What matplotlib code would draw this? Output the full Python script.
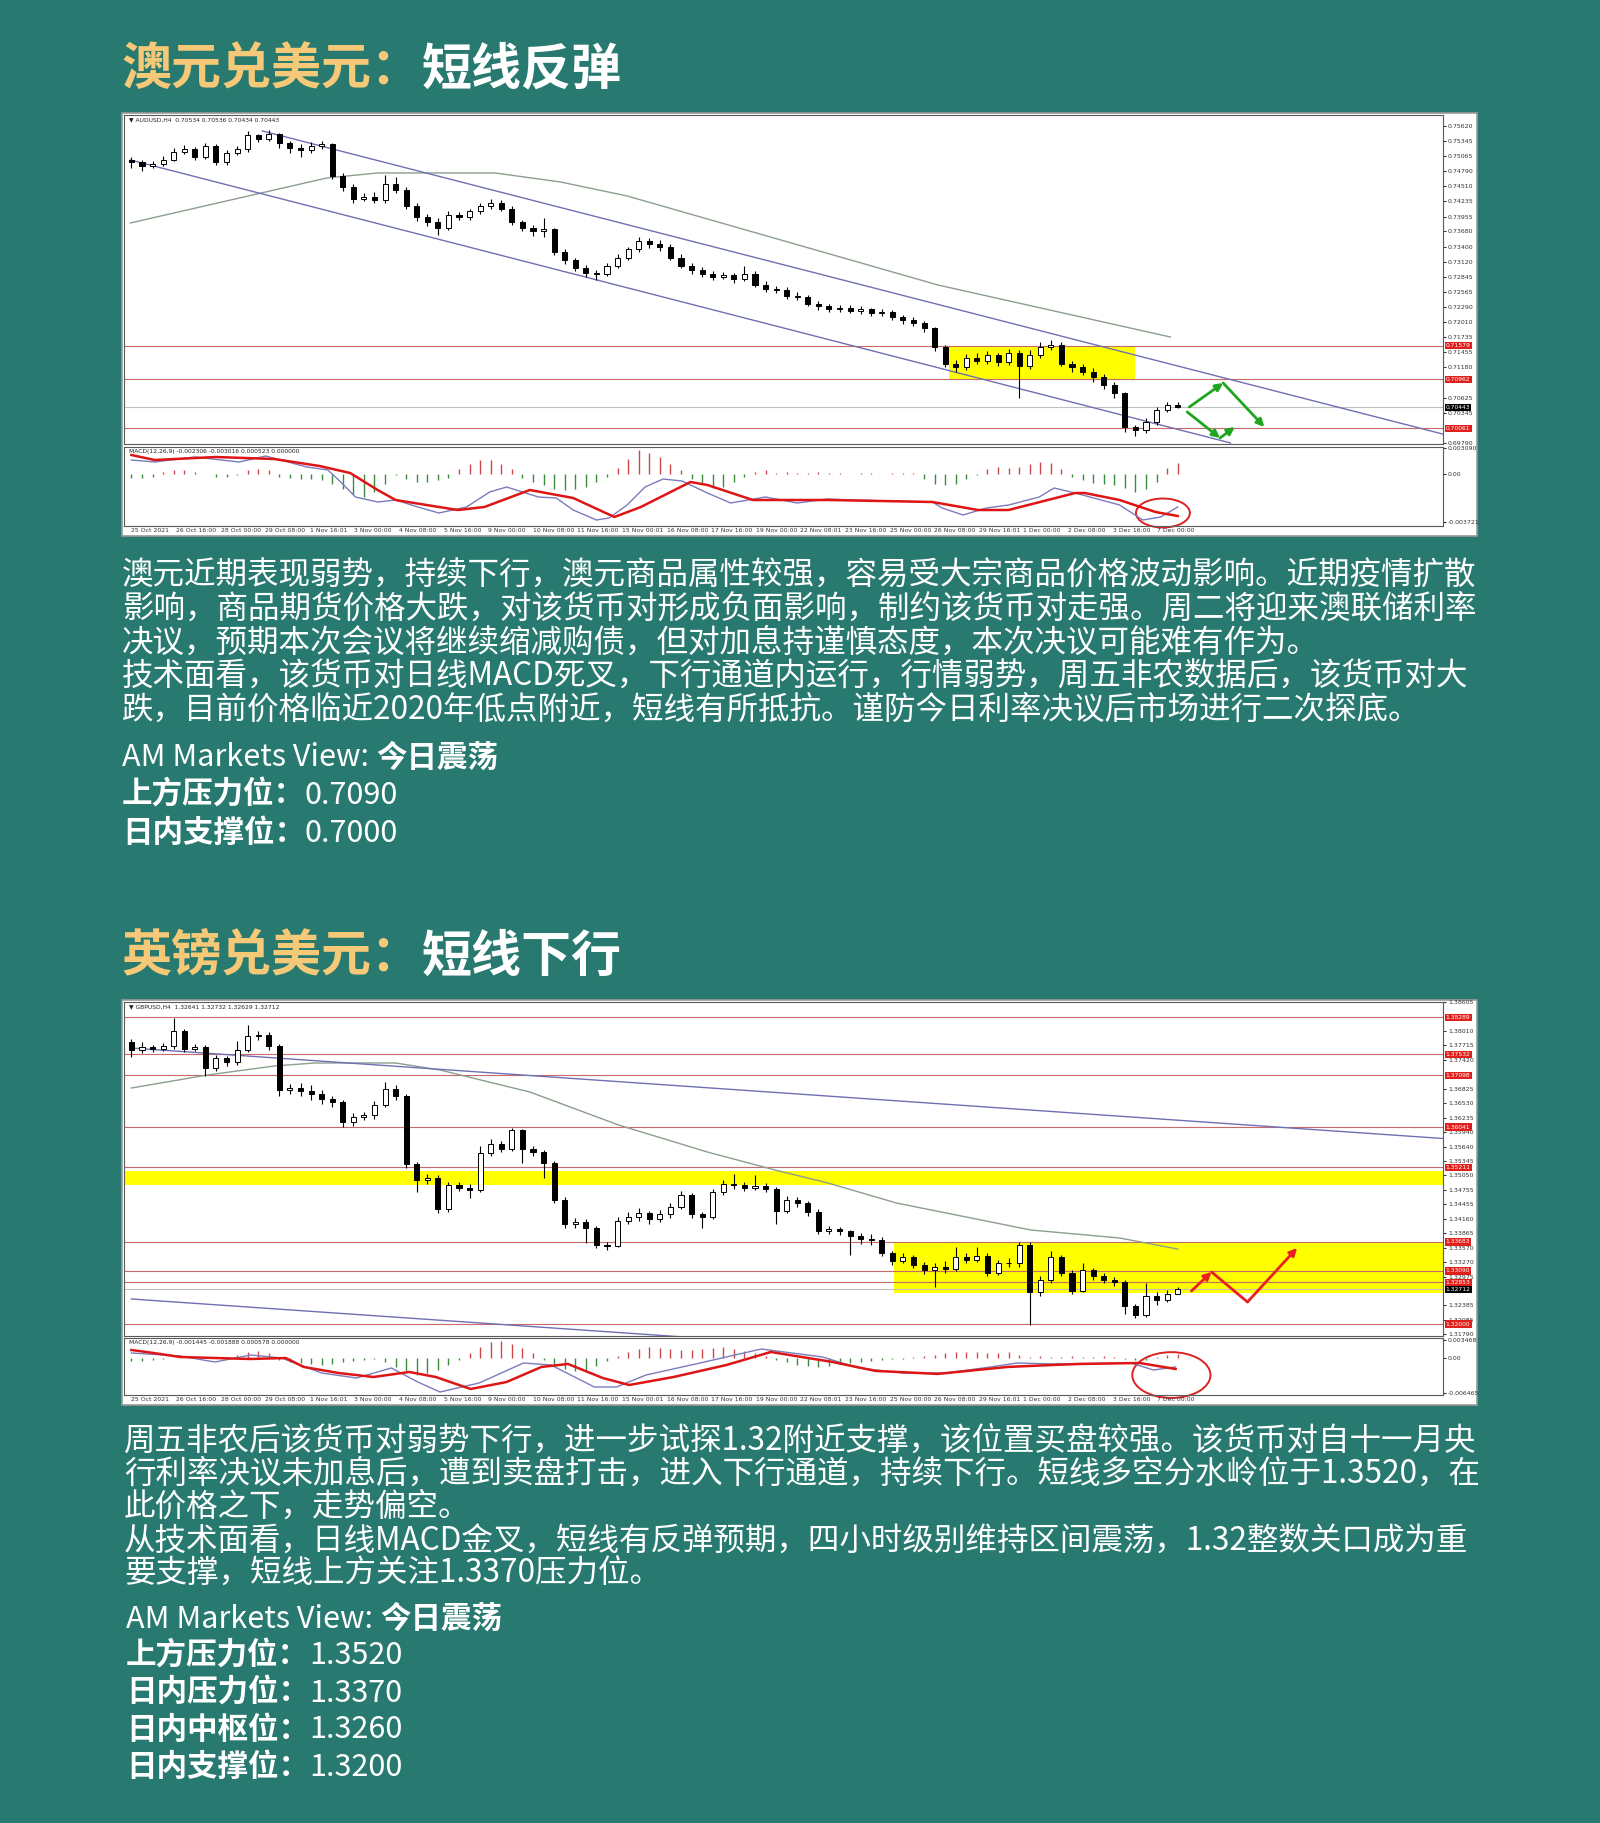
import numpy as np
import matplotlib
matplotlib.use('Agg')
import matplotlib.pyplot as plt
from matplotlib.patches import Rectangle, Ellipse

plt.rcParams['font.family'] = ['Noto Sans CJK SC', 'DejaVu Sans']

W, H = 1600, 1823
BG = '#287a70'
GOLD = '#f6c978'
LINE_RED = '#c86a6a'
TAG_RED = '#e0201c'
CHANNEL = '#6f6fb4'
MA_COL = '#8c9e8c'

# ---------------- AUDUSD H4 ----------------
aud_first_open = 0.7500
aud_close = [0.7495, 0.7488, 0.7492, 0.7500, 0.7515, 0.7520, 0.7505, 0.7525, 0.7495, 0.7512,
             0.7520, 0.7545, 0.7538, 0.7548, 0.7530, 0.7522, 0.7518, 0.7525, 0.7528, 0.7470,
             0.7450, 0.7428, 0.7432, 0.7425, 0.7455, 0.7445, 0.7415, 0.7395, 0.7385, 0.7375,
             0.7398, 0.7395, 0.7405, 0.7415, 0.7420, 0.7410, 0.7385, 0.7375, 0.7368, 0.7372,
             0.7330, 0.7315, 0.7300, 0.7292, 0.7290, 0.7305, 0.7320, 0.7335, 0.7350, 0.7345,
             0.7340, 0.7320, 0.7305, 0.7298, 0.7290, 0.7285, 0.7288, 0.7280, 0.7290, 0.7270,
             0.7262, 0.7260, 0.7250, 0.7248, 0.7235, 0.7230, 0.7225, 0.7228, 0.7222, 0.7225,
             0.7218, 0.7220, 0.7210, 0.7205, 0.7200, 0.7190, 0.7155, 0.7125, 0.7118, 0.7135,
             0.7130, 0.7140, 0.7128, 0.7145, 0.7120, 0.7140, 0.7155, 0.7160, 0.7125, 0.7118,
             0.7110, 0.7100, 0.7085, 0.7070, 0.7008, 0.7002, 0.7018, 0.7040, 0.7048, 0.70443]
aud_high = [0.7505, 0.7500, 0.7497, 0.7506, 0.7522, 0.7527, 0.7524, 0.7530, 0.7528, 0.7518,
            0.7526, 0.7552, 0.7548, 0.7555, 0.7550, 0.7535, 0.7528, 0.7532, 0.7535, 0.7530,
            0.7475, 0.7455, 0.7438, 0.7440, 0.7472, 0.7468, 0.7450, 0.7420, 0.7400, 0.7392,
            0.7405, 0.7404, 0.7410, 0.7420, 0.7427, 0.7425, 0.7415, 0.7390, 0.7380, 0.7392,
            0.7375, 0.7335, 0.7320, 0.7306, 0.7298, 0.7310, 0.7326, 0.7340, 0.7358, 0.7356,
            0.7352, 0.7345, 0.7326, 0.7310, 0.7302, 0.7296, 0.7294, 0.7292, 0.7305, 0.7295,
            0.7276, 0.7268, 0.7265, 0.7256, 0.7252, 0.7240, 0.7234, 0.7232, 0.7232, 0.7230,
            0.7228, 0.7226, 0.7224, 0.7215, 0.7210, 0.7204, 0.7193, 0.7160, 0.7132, 0.7142,
            0.7145, 0.7148, 0.7145, 0.7152, 0.7150, 0.7150, 0.7165, 0.7168, 0.7165, 0.7130,
            0.7125, 0.7116, 0.7105, 0.7092, 0.7073, 0.7012, 0.7024, 0.7046, 0.7054, 0.7054]
aud_low = [0.7485, 0.7480, 0.7484, 0.7488, 0.7497, 0.7510, 0.7500, 0.7502, 0.7490, 0.7490,
           0.7508, 0.7515, 0.7532, 0.7535, 0.7522, 0.7512, 0.7505, 0.7512, 0.7520, 0.7465,
           0.7442, 0.7420, 0.7424, 0.7420, 0.7420, 0.7438, 0.7410, 0.7388, 0.7378, 0.7362,
           0.7370, 0.7390, 0.7390, 0.7400, 0.7410, 0.7405, 0.7380, 0.7368, 0.7360, 0.7358,
           0.7325, 0.7308, 0.7295, 0.7285, 0.7278, 0.7286, 0.7300, 0.7316, 0.7330, 0.7338,
           0.7332, 0.7315, 0.7300, 0.7290, 0.7284, 0.7278, 0.7280, 0.7274, 0.7276, 0.7265,
           0.7256, 0.7254, 0.7244, 0.7242, 0.7230, 0.7224, 0.7220, 0.7220, 0.7218, 0.7217,
           0.7212, 0.7212, 0.7205, 0.7198, 0.7194, 0.7184, 0.7148, 0.7118, 0.7110, 0.7114,
           0.7125, 0.7124, 0.7120, 0.7122, 0.7062, 0.7115, 0.7135, 0.7150, 0.7120, 0.7110,
           0.7104, 0.7092, 0.7078, 0.7062, 0.7000, 0.6992, 0.6998, 0.7012, 0.7036, 0.7043]
aud_ma_x = [-0.1, 18.5, 23.3, 34.4, 40.6, 46.9, 76.3, 98.3]
aud_ma_y = [0.73836, 0.74664, 0.74756, 0.74756, 0.74590, 0.74333, 0.72696, 0.71739]
aud_chan_up = ([12.4, 124.8], [0.75528, 0.69918])
aud_chan_dn = ([-0.1, 104.0], [0.74995, 0.69790])
aud_red_lines = [0.71579, 0.70962, 0.70061]
aud_last = 0.70443
aud_box = (77.4, 95.0, 0.70949, 0.71574)
aud_arrow_a = [(100.1, 0.70452), (103.3, 0.70893), (107.2, 0.70084)]
aud_arrow_b = [(99.9, 0.70360), (103.0, 0.69882), (104.4, 0.70084)]
aud_ticks = [0.75620, 0.75345, 0.75065, 0.74790, 0.74510, 0.74235, 0.73955, 0.73680, 0.73400,
             0.73120, 0.72845, 0.72565, 0.72290, 0.72010, 0.71735, 0.71455, 0.71180, 0.70625,
             0.70345, 0.69790]
# MACD in units of 1e-4
aud_hist = [-3, -3, -2, 2, 3, 3, 2, 0, -2, -2,
            -1, 3, 4, 3, -2, -3, -4, -4, -5, -8,
            -12, -16, -18, -14, -8, -1, -4, -6, -6, -5,
            -3, 4, 8, 11, 11, 8, 4, -3, -6, -9,
            -12, -13, -12, -10, -6, -2, 5, 12, 19, 17,
            14, 8, 3, -4, -8, -11, -10, -6, -2, 2,
            3, 1, 2, 1, 1, 2, 1, 1, 0, 1,
            1, 0, 1, 1, 1, -4, -8, -9, -8, -4,
            -1, 4, 6, 5, 6, 8, 10, 9, 4, -2,
            -5, -7, -8, -9, -11, -14, -12, -6, 5, 9]
aud_sig_x = [0, 2.2, 8, 13.5, 17.8, 20.7, 23.3, 25, 29.1, 30.9, 33.4, 37.7, 41.8, 45.7, 48.2,
             52.9, 54.5, 58.8, 65.9, 75.8, 80.1, 83, 89.3, 90.2, 93.5, 96.9, 99]
aud_sig_y = [15.2, 11.2, 13.6, 12, 6.4, 0.8, -12.8, -20.8, -26.4, -28.8, -26.4, -12.8, -19.2,
             -34.4, -26.4, -6.4, -8.8, -20.8, -20.8, -22.4, -28.8, -28.8, -15.2, -15.2, -20.8,
             -30.4, -33.6]
aud_macd_x = [0, 2.2, 6, 10.2, 12.7, 16.6, 18.6, 19.9, 21.2, 23.3, 25, 27.1, 29.1, 31.7, 33.9,
              35.5, 38.5, 40.2, 41.8, 44, 45.2, 46.9, 48.6, 50.3, 52.1, 54.5, 56.7, 60, 63, 65.9,
              68.2, 75.8, 76.7, 78.7, 80.9, 83, 85.9, 87.3, 89.3, 93.5, 95.7, 97.4, 99]
aud_macd_y = [11.2, 9.6, 13.6, 9.6, 14.4, 5.6, 3.2, -7.2, -18.4, -22.4, -20.8, -26.4, -31.2,
              -26.4, -14.4, -10.4, -18.4, -19.2, -28.8, -36.8, -35.2, -24.8, -10.4, -4, -5.6,
              -15.2, -23.2, -18.4, -23.2, -20, -20.8, -22.4, -27.2, -32.8, -27.2, -24.8, -18.4,
              -11.2, -15.2, -24.8, -36.8, -34.4, -26.4]

# ---------------- GBPUSD H4 ----------------
gbp_first_open = 1.3778
gbp_close = [1.3762, 1.3768, 1.3764, 1.3770, 1.3800, 1.3765, 1.3768, 1.3725, 1.3745, 1.3738,
             1.3762, 1.3790, 1.3792, 1.3770, 1.3680, 1.3685, 1.3678, 1.3672, 1.3662, 1.3655,
             1.3615, 1.3625, 1.3628, 1.3650, 1.3682, 1.3668, 1.3528, 1.3495, 1.3500, 1.3435,
             1.3485, 1.3480, 1.3475, 1.3550, 1.3570, 1.3560, 1.3598, 1.3558, 1.3552, 1.3530,
             1.3455, 1.3405, 1.3410, 1.3398, 1.3362, 1.3360, 1.3412, 1.3420, 1.3428, 1.3415,
             1.3425, 1.3440, 1.3465, 1.3425, 1.3420, 1.3470, 1.3488, 1.3485, 1.3480, 1.3484,
             1.3478, 1.3432, 1.3455, 1.3448, 1.3430, 1.3390, 1.3395, 1.3390, 1.3380, 1.3375,
             1.3372, 1.3345, 1.3330, 1.3338, 1.3322, 1.3310, 1.3318, 1.3312, 1.3338, 1.3332,
             1.3340, 1.3305, 1.3325, 1.3325, 1.3362, 1.3265, 1.3290, 1.3338, 1.3305, 1.3268,
             1.3310, 1.3298, 1.3290, 1.3286, 1.3238, 1.3218, 1.3258, 1.3250, 1.3262, 1.32712]
gbp_high = [1.3785, 1.3778, 1.3772, 1.3776, 1.3828, 1.3805, 1.3775, 1.3772, 1.3752, 1.3750,
            1.3780, 1.3813, 1.3800, 1.3798, 1.3774, 1.3692, 1.3695, 1.3690, 1.3680, 1.3668,
            1.3660, 1.3632, 1.3635, 1.3658, 1.3696, 1.3690, 1.3672, 1.3532, 1.3508, 1.3505,
            1.3492, 1.3492, 1.3488, 1.3565, 1.3580, 1.3576, 1.3602, 1.3600, 1.3565, 1.3556,
            1.3534, 1.3460, 1.3418, 1.3415, 1.3402, 1.3368, 1.3420, 1.3430, 1.3438, 1.3432,
            1.3433, 1.3448, 1.3472, 1.3468, 1.3430, 1.3478, 1.3495, 1.3508, 1.3492, 1.3505,
            1.3490, 1.3482, 1.3462, 1.3460, 1.3452, 1.3435, 1.3402, 1.3400, 1.3392, 1.3386,
            1.3385, 1.3378, 1.3350, 1.3345, 1.3342, 1.3328, 1.3325, 1.3330, 1.3358, 1.3345,
            1.3358, 1.3345, 1.3332, 1.3335, 1.3368, 1.3368, 1.3298, 1.3350, 1.3342, 1.3310,
            1.3325, 1.3315, 1.3305, 1.3296, 1.3290, 1.3242, 1.3284, 1.3265, 1.3270, 1.3275]
gbp_low = [1.3748, 1.3755, 1.3758, 1.3760, 1.3765, 1.3758, 1.3760, 1.3709, 1.3718, 1.3730,
           1.3732, 1.3758, 1.3783, 1.3762, 1.3668, 1.3672, 1.3668, 1.3660, 1.3652, 1.3645,
           1.3604, 1.3606, 1.3618, 1.3620, 1.3645, 1.3660, 1.3520, 1.3471, 1.3488, 1.3428,
           1.3430, 1.3472, 1.3458, 1.3470, 1.3545, 1.3552, 1.3555, 1.3530, 1.3545, 1.3500,
           1.3448, 1.3398, 1.3398, 1.3366, 1.3355, 1.3352, 1.3358, 1.3405, 1.3412, 1.3405,
           1.3410, 1.3418, 1.3435, 1.3418, 1.3397, 1.3415, 1.3465, 1.3478, 1.3472, 1.3475,
           1.3470, 1.3405, 1.3428, 1.3440, 1.3422, 1.3385, 1.3385, 1.3382, 1.3342, 1.3365,
           1.3362, 1.3340, 1.3322, 1.3325, 1.3315, 1.3302, 1.3276, 1.3305, 1.3308, 1.3325,
           1.3328, 1.3298, 1.3300, 1.3318, 1.3318, 1.3198, 1.3258, 1.3285, 1.3298, 1.3262,
           1.3265, 1.3290, 1.3284, 1.3278, 1.3220, 1.3212, 1.3215, 1.3240, 1.3245, 1.3263]
gbp_ma_x = [0, 7.2, 13.5, 17.3, 25, 29.2, 37.7, 46.1, 54.5, 60.9, 65.9, 72.4, 85.1, 93.5, 99]
gbp_ma_y = [1.36841, 1.37108, 1.37292, 1.37354, 1.37354, 1.37210, 1.36759, 1.36082, 1.35528,
            1.35159, 1.34893, 1.34482, 1.33929, 1.33765, 1.33539]
gbp_chan_up = ([0, 124.8], [1.37661, 1.35795])
gbp_chan_dn = ([0, 54.5], [1.32514, 1.31701])
gbp_red_lines = [1.38289, 1.37532, 1.37098, 1.36041, 1.35211, 1.33683, 1.33090, 1.32853, 1.32000]
gbp_last = 1.32712
gbp_band = (1.34852, 1.35139)
gbp_box = (72.2, 130.0, 1.32637, 1.33683)
gbp_arrow = [(100.3, 1.32678), (102.2, 1.33068), (105.6, 1.32453), (110.3, 1.33561)]
gbp_ticks = [1.38605, 1.38010, 1.37715, 1.37420, 1.36825, 1.36530, 1.36235, 1.35940, 1.35640,
             1.35345, 1.35050, 1.34755, 1.34455, 1.34160, 1.33865, 1.33570, 1.33270, 1.32975,
             1.32385, 1.32085, 1.31790]
gbp_hist = [-6, -6, -5, -3, -1, 0, 1, 1, 0, 2,
            6, 10, 13, 8, -4, -8, -10, -12, -14, -12,
            -9, -6, -4, -2, -8, -18, -26, -32, -30, -24,
            -14, -4, 8, 20, 30, 32, 26, 18, 8, -4,
            -14, -22, -26, -24, -16, -6, 4, 10, 16, 20,
            19, 17, 15, 14, 16, 18, 20, 17, 13, 8,
            3, -4, -9, -13, -16, -17, -15, -12, -10, -8,
            -6, -4, -3, -2, 2, 4, 6, 9, 11, 11,
            10, 8, 9, 10, 6, 2, 3, 2, 2, 3,
            2, 2, 3, 2, -2, -5, -4, 1, 5, 7]
gbp_sig_x = [0, 2.1, 4.6, 7.9, 11.3, 14.6, 16.3, 19.6, 22.9, 26.3, 28.8, 32.1, 35.5, 38.8, 41.3,
             44.6, 47.1, 51.3, 56.3, 60.5, 66.3, 70.4, 76.3, 82.9, 87.1, 89.6, 95.4, 98.8]
gbp_sig_y = [14.6, 8.9, 1.3, -0.6, -2.5, -0.6, -17.6, -29.1, -36.7, -27.2, -36.7, -59.5, -46.2,
             -17.6, -11.9, -38.6, -51.9, -36.7, -13.9, 10.8, -8.0, -25.1, -30.8, -17.6, -13.9,
             -12.0, -10.1, -21.5]
gbp_macd_x = [0, 4.6, 7.9, 11.3, 14.2, 18, 21.3, 24.6, 27.1, 29.2, 32.9, 37.1, 39.7, 43.8, 45.9,
              48.7, 53.8, 59.6, 65.4, 68.8, 73, 77.1, 81.3, 83.8, 87.1, 94.6, 96.7, 98.8]
gbp_macd_y = [8.9, 3.2, -8.2, 5.1, -0.6, -29.1, -38.6, -19.6, -46.2, -65.2, -48.1, -10.1, -13.9,
              -55.7, -55.7, -32.9, -10.1, 16.5, 1.3, -19.6, -29.1, -29.1, -17.6, -10.1, -11.9,
              -10.1, -23.4, -17.6]

dates = ['25 Oct 2021', '26 Oct 16:00', '28 Oct 00:00', '29 Oct 08:00', '1 Nov 16:01',
         '3 Nov 00:00', '4 Nov 08:00', '5 Nov 16:00', '9 Nov 00:00', '10 Nov 08:00',
         '11 Nov 16:00', '15 Nov 00:01', '16 Nov 08:00', '17 Nov 16:00', '19 Nov 00:00',
         '22 Nov 08:01', '23 Nov 16:00', '25 Nov 00:00', '26 Nov 08:00', '29 Nov 16:01',
         '1 Dec 00:00', '2 Dec 08:00', '3 Dec 16:00', '7 Dec 00:00']

aud_text = ['澳元近期表现弱势，持续下行，澳元商品属性较强，容易受大宗商品价格波动影响。近期疫情扩散',
            '影响，商品期货价格大跌，对该货币对形成负面影响，制约该货币对走强。周二将迎来澳联储利率',
            '决议，预期本次会议将继续缩减购债，但对加息持谨慎态度，本次决议可能难有作为。',
            '技术面看，该货币对日线MACD死叉，下行通道内运行，行情弱势，周五非农数据后，该货币对大',
            '跌，目前价格临近2020年低点附近，短线有所抵抗。谨防今日利率决议后市场进行二次探底。']
aud_levels = [('上方压力位：', '0.7090'), ('日内支撑位：', '0.7000')]
gbp_text = ['周五非农后该货币对弱势下行，进一步试探1.32附近支撑，该位置买盘较强。该货币对自十一月央',
            '行利率决议未加息后，遭到卖盘打击，进入下行通道，持续下行。短线多空分水岭位于1.3520，在',
            '此价格之下，走势偏空。',
            '从技术面看，日线MACD金叉，短线有反弹预期，四小时级别维持区间震荡，1.32整数关口成为重',
            '要支撑，短线上方关注1.3370压力位。']
gbp_levels = [('上方压力位：', '1.3520'), ('日内压力位：', '1.3370'),
              ('日内中枢位：', '1.3260'), ('日内支撑位：', '1.3200')]

XL = (-0.7, 124.1)

fig = plt.figure(figsize=(W / 100, H / 100), dpi=100, facecolor=BG)
bg = fig.add_axes([0, 0, 1, 1])
bg.set_xlim(0, W)
bg.set_ylim(H, 0)
bg.axis('off')


def frac(x0, y0, x1, y1):
    return [x0 / W, 1 - y1 / H, (x1 - x0) / W, (y1 - y0) / H]


def style(ax):
    ax.set_facecolor('white')
    for s in ax.spines.values():
        s.set_color('#5a5a5a')
        s.set_linewidth(0.8)


def candles(ax, first_open, closes, highs, lows):
    closes = np.array(closes)
    opens = np.r_[first_open, closes[:-1]]
    x = np.arange(len(closes))
    ax.vlines(x, lows, highs, color='black', lw=0.8, zorder=3)
    up = closes >= opens
    h = np.maximum(np.abs(closes - opens), 0.00012)
    b = np.minimum(opens, closes)
    ax.bar(x[up], h[up], bottom=b[up], width=0.48, color='white', edgecolor='black', lw=0.7, zorder=4)
    ax.bar(x[~up], h[~up], bottom=b[~up], width=0.48, color='black', edgecolor='black', lw=0.7, zorder=4)


def tag(ax, y, s, color):
    ax.annotate(s, xy=(1, y), xycoords=('axes fraction', 'data'), xytext=(2, 0),
                textcoords='offset points', fontsize=4.3, color='white', va='center', ha='left',
                family='DejaVu Sans', annotation_clip=False,
                bbox=dict(boxstyle='square,pad=0.2', fc=color, ec='none'))


def price_axes(box, ylim, ticks, header):
    ax = fig.add_axes(frac(*box))
    style(ax)
    ax.set_xlim(*XL)
    ax.set_ylim(*ylim)
    ax.set_xticks([])
    ax.yaxis.tick_right()
    ax.set_yticks(ticks)
    ax.set_yticklabels(['%.5f' % t for t in ticks], family='DejaVu Sans')
    ax.tick_params(axis='y', labelsize=4.5, length=2, pad=1.5, colors='#333333')
    ax.text(0.004, 0.992, header, transform=ax.transAxes, fontsize=4.3, va='top',
            family='DejaVu Sans', color='#222222')
    return ax


def macd_axes(box, ylim, ticks, ticklabels, hist, sx, sy, mx, my, header):
    ax = fig.add_axes(frac(*box))
    style(ax)
    ax.set_xlim(*XL)
    ax.set_ylim(*ylim)
    hv = np.array(hist) * 1e-4
    x = np.arange(len(hv))
    ax.vlines(x, 0, hv, colors=np.where(hv > 0, '#cc4848', '#3c8c3c'), lw=1.0)
    ax.plot(mx, np.array(my) * 1e-4, color='#7b7bbd', lw=1.0)
    ax.plot(sx, np.array(sy) * 1e-4, color='#dd1515', lw=1.8)
    ax.yaxis.tick_right()
    ax.set_yticks(ticks)
    ax.set_yticklabels(ticklabels, family='DejaVu Sans')
    ax.tick_params(axis='y', labelsize=4.5, length=2, pad=1.5, colors='#333333')
    ax.set_xticks(np.arange(len(dates)) * 4.22)
    ax.set_xticklabels(dates, ha='left', family='DejaVu Sans')
    ax.tick_params(axis='x', labelsize=4.4, length=0, pad=1.5, colors='#333333')
    ax.text(0.004, 0.97, header, transform=ax.transAxes, fontsize=4.3, va='top',
            family='DejaVu Sans', color='#222222')
    return ax


def arrow(ax, p0, p1, color, head=True):
    ax.annotate('', xy=p1, xytext=p0, annotation_clip=False,
                arrowprops=dict(arrowstyle='-|>' if head else '-', color=color, lw=2.0,
                                mutation_scale=11, shrinkA=0, shrinkB=0))


def two_part(x, y, a, b, size, wa, wb, ca='white', cb='white'):
    t = bg.text(x, y, a, fontsize=size, fontweight=wa, color=ca, va='center', ha='left')
    bg.annotate(b, xy=(1, 0.5), xycoords=t, fontsize=size, fontweight=wb, color=cb,
                va='center', ha='left')


# ---------- panels ----------
bg.add_patch(Rectangle((122, 113), 1355, 423, fc='white', ec='#9a9a9a', lw=1.2))
bg.add_patch(Rectangle((122, 1000), 1355, 405, fc='white', ec='#9a9a9a', lw=1.2))

# ---------- AUDUSD chart ----------
ax = price_axes((124, 115, 1443, 444), (0.69771, 0.75822), aud_ticks,
                '▼ AUDUSD,H4  0.70534 0.70536 0.70434 0.70443')
x0, x1, y0, y1 = aud_box
ax.add_patch(Rectangle((x0, y0), x1 - x0, y1 - y0, fc='#ffff00', ec='none', zorder=1))
for lv in aud_red_lines:
    ax.axhline(lv, color=LINE_RED, lw=0.8, zorder=2)
    tag(ax, lv, '%.5f' % lv, TAG_RED)
ax.axhline(aud_last, color='#c0c0c0', lw=0.8, zorder=2)
tag(ax, aud_last, '%.5f' % aud_last, 'black')
ax.plot(aud_ma_x, aud_ma_y, color=MA_COL, lw=1.0, zorder=2)
ax.plot(*aud_chan_up, color=CHANNEL, lw=1.0, zorder=2)
ax.plot(*aud_chan_dn, color=CHANNEL, lw=1.0, zorder=2)
candles(ax, aud_first_open, aud_close, aud_high, aud_low)
for path in (aud_arrow_a, aud_arrow_b):
    for p0, p1 in zip(path[:-1], path[1:]):
        arrow(ax, p0, p1, '#1fa51f')

mx = macd_axes((124, 447, 1443, 526), (-0.00416, 0.00216), [0.00208, 0, -0.00384],
               ['0.003090', '0.00', '-0.003721'], aud_hist, aud_sig_x, aud_sig_y,
               aud_macd_x, aud_macd_y, 'MACD(12,26,9) -0.002306 -0.003016 0.000523 0.000000')
mx.add_patch(Ellipse((97.6, -0.00312), 5.1, 0.00232, fill=False, ec='#dd2222', lw=1.4, clip_on=False))

# ---------- GBPUSD chart ----------
ax = price_axes((124, 1002, 1443, 1336), (1.31755, 1.38605), gbp_ticks,
                '▼ GBPUSD,H4  1.32641 1.32732 1.32629 1.32712')
ax.axhspan(*gbp_band, color='#ffff00', lw=0, zorder=1)
x0, x1, y0, y1 = gbp_box
ax.add_patch(Rectangle((x0, y0), x1 - x0, y1 - y0, fc='#ffff00', ec='none', zorder=1))
for lv in gbp_red_lines:
    ax.axhline(lv, color=LINE_RED, lw=0.8, zorder=2)
    tag(ax, lv, '%.5f' % lv, TAG_RED)
ax.axhline(gbp_last, color='#c0c0c0', lw=0.8, zorder=2)
tag(ax, gbp_last, '%.5f' % gbp_last, 'black')
ax.plot(gbp_ma_x, gbp_ma_y, color=MA_COL, lw=1.0, zorder=2)
ax.plot(*gbp_chan_up, color=CHANNEL, lw=1.0, zorder=2)
ax.plot(*gbp_chan_dn, color=CHANNEL, lw=1.0, zorder=2)
candles(ax, gbp_first_open, gbp_close, gbp_high, gbp_low)
arrow(ax, gbp_arrow[0], gbp_arrow[1], '#e82020')
arrow(ax, gbp_arrow[1], gbp_arrow[2], '#e82020', head=False)
arrow(ax, gbp_arrow[2], gbp_arrow[3], '#e82020')

mx = macd_axes((124, 1338, 1443, 1395), (-0.00709, 0.00374), [0.00336, 0, -0.00665],
               ['0.003468', '0.00', '-0.006465'], gbp_hist, gbp_sig_x, gbp_sig_y,
               gbp_macd_x, gbp_macd_y, 'MACD(12,26,9) -0.001445 -0.001888 0.000578 0.000000')
mx.add_patch(Ellipse((98.4, -0.0033), 7.4, 0.0087, fill=False, ec='#dd2222', lw=1.4, clip_on=False))

# ---------- titles ----------
two_part(122, 70, '澳元兑美元：', '短线反弹', 36, 'bold', 'bold', GOLD, 'white')
two_part(122, 957, '英镑兑美元：', '短线下行', 36, 'bold', 'bold', GOLD, 'white')

# ---------- commentary ----------
for y, line in zip([576, 609, 643, 677, 710], aud_text):
    bg.text(122, y, line, fontsize=22.7, color='white', va='center', ha='left')
two_part(122, 758, 'AM Markets View: ', '今日震荡', 22, 'normal', 'bold')
for y, (a, b) in zip([795, 833], aud_levels):
    two_part(122, y, a, b, 22, 'bold', 'normal')

for y, line in zip([1442, 1474, 1507, 1542, 1574], gbp_text):
    bg.text(124, y, line, fontsize=22.7, color='white', va='center', ha='left')
two_part(126, 1619, 'AM Markets View: ', '今日震荡', 22, 'normal', 'bold')
for y, (a, b) in zip([1656, 1693, 1730, 1767], gbp_levels):
    two_part(126, y, a, b, 22, 'bold', 'normal')

fig.savefig('out.png', dpi=100, facecolor=BG)
